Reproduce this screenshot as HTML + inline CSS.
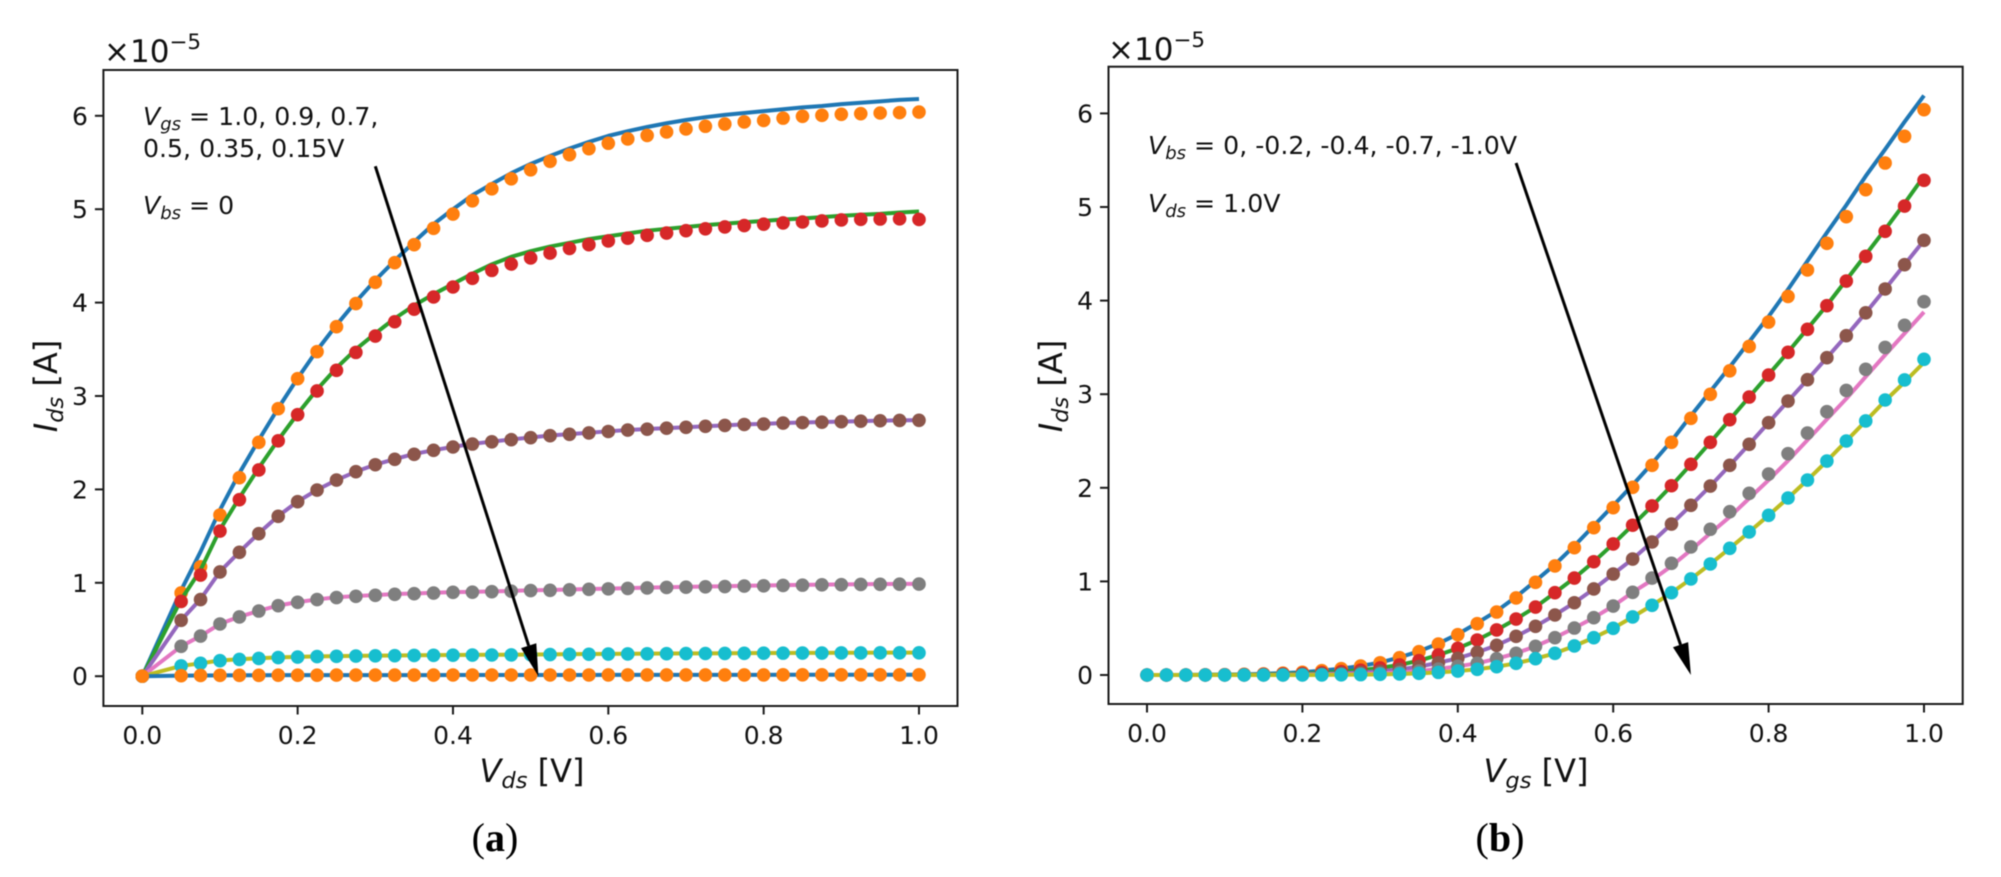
<!DOCTYPE html>
<html lang="en">
<head>
<meta charset="utf-8">
<title>MOSFET I-V characteristics</title>
<style>
html,body{margin:0;padding:0;background:#fff;}
svg{display:block;filter:blur(0.45px);}
text{font-family:"DejaVu Sans","Liberation Sans",sans-serif;fill:#111;}
.cap{font-family:"Liberation Serif",serif;font-size:40px;fill:#000;}
.tick{font-size:25px;}
.note{font-size:25.2px;}
.axl{font-size:32px;}
.off{font-size:31px;}
.it{font-style:italic;}
</style>
</head>
<body>
<svg id="figure" width="2001" height="877" viewBox="0 0 2001 877" xmlns="http://www.w3.org/2000/svg">
  <rect x="0" y="0" width="2001" height="877" fill="#ffffff"/>
  <g id="panel-a"></g>
  <g id="panel-b"></g>

  <text class="off" x="104" y="62">×10<tspan font-size="21.5" dy="-13">−5</tspan></text>
  <text class="off" x="1108" y="60">×10<tspan font-size="21.5" dy="-13">−5</tspan></text>

  <text class="note" x="143" y="125"><tspan class="it">V</tspan><tspan class="it" font-size="18" dy="5">gs</tspan><tspan dy="-5"> = 1.0, 0.9, 0.7,</tspan></text>
  <text class="note" x="143" y="157">0.5, 0.35, 0.15V</text>
  <text class="note" x="143" y="214"><tspan class="it">V</tspan><tspan class="it" font-size="18" dy="5">bs</tspan><tspan dy="-5"> = 0</tspan></text>

  <text class="note" x="1148" y="154"><tspan class="it">V</tspan><tspan class="it" font-size="18" dy="5">bs</tspan><tspan dy="-5"> = 0, -0.2, -0.4, -0.7, -1.0V</tspan></text>
  <text class="note" x="1148" y="212"><tspan class="it">V</tspan><tspan class="it" font-size="18" dy="5">ds</tspan><tspan dy="-5"> = 1.0V</tspan></text>

  <text class="axl" x="532" y="782" text-anchor="middle"><tspan class="it">V</tspan><tspan class="it" font-size="22.5" dy="6">ds</tspan><tspan dy="-6"> [V]</tspan></text>
  <text class="axl" x="1536" y="782" text-anchor="middle"><tspan class="it">V</tspan><tspan class="it" font-size="22.5" dy="6">gs</tspan><tspan dy="-6"> [V]</tspan></text>
  <text class="axl" transform="translate(57,386) rotate(-90)" text-anchor="middle"><tspan class="it">I</tspan><tspan class="it" font-size="22.5" dy="6">ds</tspan><tspan dy="-6"> [A]</tspan></text>
  <text class="axl" transform="translate(1062,386) rotate(-90)" text-anchor="middle"><tspan class="it">I</tspan><tspan class="it" font-size="22.5" dy="6">ds</tspan><tspan dy="-6"> [A]</tspan></text>

  <text class="cap" x="495" y="851" text-anchor="middle">(<tspan font-weight="bold">a</tspan>)</text>
  <text class="cap" x="1500" y="851" text-anchor="middle">(<tspan font-weight="bold">b</tspan>)</text>
</svg>

<script>
// ---------- Panel (a) data: Ids [1e-5 A] vs Vds [V] ----------
const aX = [0,0.05,0.075,0.1,0.125,0.15,0.175,0.2,0.225,0.25,0.275,0.3,0.325,0.35,0.375,0.4,0.425,0.45,0.475,0.5,0.525,0.55,0.575,0.6,0.625,0.65,0.675,0.7,0.725,0.75,0.775,0.8,0.825,0.85,0.875,0.9,0.925,0.95,0.975,1.0];
const aLine1 = [0,0.92,1.333,1.78,2.175,2.53,2.87,3.19,3.49,3.76,4.01,4.24,4.45,4.65,4.84,5.0,5.15,5.27,5.385,5.484,5.57,5.65,5.72,5.785,5.835,5.88,5.92,5.955,5.985,6.01,6.03,6.05,6.07,6.09,6.105,6.125,6.14,6.155,6.17,6.18];
const aDots1 = [0,0.891,1.172,1.726,2.125,2.504,2.864,3.185,3.475,3.742,3.99,4.217,4.427,4.62,4.795,4.948,5.09,5.218,5.325,5.422,5.513,5.584,5.648,5.706,5.752,5.79,5.827,5.859,5.888,5.912,5.934,5.95,5.975,5.995,6.005,6.016,6.023,6.03,6.034,6.04];
const aLine2 = [0,0.82,1.137,1.57,1.91,2.23,2.53,2.81,3.07,3.3,3.5,3.67,3.83,3.97,4.09,4.2,4.31,4.41,4.49,4.55,4.6,4.64,4.68,4.71,4.74,4.77,4.79,4.81,4.83,4.845,4.86,4.875,4.89,4.9,4.915,4.93,4.94,4.95,4.965,4.975];
const aDots2 = [0,0.8,1.083,1.554,1.89,2.208,2.52,2.8,3.054,3.275,3.467,3.642,3.795,3.93,4.06,4.167,4.26,4.345,4.413,4.478,4.53,4.58,4.62,4.66,4.69,4.72,4.745,4.77,4.79,4.81,4.825,4.84,4.853,4.863,4.874,4.885,4.892,4.895,4.897,4.89];
const aLine3 = [0,0.6,0.825,1.12,1.33,1.53,1.715,1.87,1.995,2.1,2.19,2.265,2.325,2.38,2.42,2.455,2.488,2.512,2.535,2.556,2.577,2.592,2.607,2.622,2.636,2.646,2.656,2.666,2.676,2.686,2.696,2.702,2.711,2.716,2.721,2.726,2.731,2.736,2.739,2.742];
const aDots3 = [0,0.598,0.82,1.116,1.326,1.526,1.712,1.868,1.993,2.1,2.19,2.264,2.322,2.376,2.418,2.454,2.486,2.51,2.532,2.554,2.575,2.59,2.605,2.62,2.635,2.645,2.655,2.665,2.675,2.685,2.695,2.7,2.71,2.715,2.72,2.725,2.73,2.735,2.738,2.74];
const aLine4 = [0,0.32,0.43,0.56,0.636,0.7,0.757,0.793,0.822,0.845,0.858,0.869,0.88,0.886,0.893,0.9,0.903,0.908,0.913,0.92,0.923,0.928,0.933,0.938,0.943,0.948,0.953,0.956,0.96,0.963,0.968,0.971,0.975,0.978,0.981,0.983,0.985,0.987,0.988,0.989];
const aDots4 = [0,0.32,0.43,0.559,0.634,0.698,0.755,0.791,0.82,0.842,0.855,0.866,0.877,0.883,0.89,0.898,0.9,0.905,0.91,0.917,0.92,0.925,0.93,0.935,0.94,0.945,0.95,0.953,0.957,0.96,0.965,0.968,0.972,0.975,0.978,0.98,0.982,0.984,0.985,0.986];
const aLine5 = [0,0.11,0.138,0.168,0.182,0.192,0.202,0.207,0.212,0.215,0.218,0.22,0.222,0.224,0.226,0.227,0.228,0.229,0.23,0.232,0.234,0.236,0.237,0.239,0.24,0.242,0.243,0.244,0.245,0.246,0.247,0.248,0.249,0.25,0.25,0.251,0.251,0.252,0.252,0.252];
const aDots5 = [0,0.11,0.138,0.166,0.18,0.19,0.2,0.205,0.21,0.213,0.216,0.218,0.22,0.222,0.224,0.225,0.226,0.227,0.228,0.23,0.232,0.234,0.235,0.237,0.238,0.24,0.241,0.242,0.243,0.244,0.245,0.246,0.247,0.248,0.248,0.249,0.249,0.25,0.25,0.25];
const aLine6 = [0,0.006,0.008,0.009,0.01,0.01,0.011,0.011,0.011,0.012,0.012,0.012,0.012,0.012,0.012,0.013,0.013,0.013,0.013,0.013,0.013,0.013,0.013,0.014,0.014,0.014,0.014,0.014,0.014,0.014,0.014,0.014,0.015,0.015,0.015,0.015,0.015,0.015,0.015,0.015];
const aDots6 = [0,0.006,0.008,0.009,0.01,0.01,0.011,0.011,0.011,0.012,0.012,0.012,0.012,0.012,0.012,0.013,0.013,0.013,0.013,0.013,0.013,0.013,0.013,0.014,0.014,0.014,0.014,0.014,0.014,0.014,0.014,0.014,0.015,0.015,0.015,0.015,0.015,0.015,0.015,0.015];
const aArrowFrom = [0.3,5.46];
const aArrowTo = [0.51,0];

// ---------- Panel (b) data: Ids [1e-5 A] vs Vgs [V] ----------
const bX = [0,0.025,0.05,0.075,0.1,0.125,0.15,0.175,0.2,0.225,0.25,0.275,0.3,0.325,0.35,0.375,0.4,0.425,0.45,0.475,0.5,0.525,0.55,0.575,0.6,0.625,0.65,0.675,0.7,0.725,0.75,0.775,0.8,0.825,0.85,0.875,0.9,0.925,0.95,0.975,1.0];
const bLine1 = [0,0,0.001,0.002,0.004,0.007,0.012,0.02,0.03,0.047,0.068,0.097,0.133,0.188,0.253,0.336,0.437,0.556,0.683,0.835,1.005,1.18,1.38,1.595,1.81,2.03,2.26,2.5,2.77,3.03,3.29,3.56,3.83,4.12,4.423,4.726,5.02,5.33,5.616,5.91,6.19];
const bDots1 = [0,0,0.001,0.002,0.004,0.007,0.012,0.02,0.029,0.046,0.067,0.096,0.131,0.185,0.249,0.331,0.431,0.548,0.673,0.823,0.99,1.165,1.36,1.574,1.788,2.005,2.24,2.486,2.742,2.999,3.25,3.51,3.771,4.045,4.327,4.612,4.897,5.185,5.47,5.755,6.04];
const bLine2 = [0,0,0,0.001,0.002,0.003,0.006,0.01,0.015,0.023,0.035,0.052,0.075,0.108,0.153,0.214,0.285,0.374,0.481,0.598,0.726,0.879,1.036,1.21,1.4,1.6,1.806,2.022,2.251,2.486,2.728,2.97,3.21,3.45,3.7,3.95,4.22,4.49,4.76,5.04,5.33];
const bDots2 = [0,0,0,0.001,0.002,0.003,0.006,0.01,0.015,0.023,0.035,0.052,0.075,0.108,0.153,0.214,0.285,0.374,0.481,0.598,0.726,0.879,1.036,1.21,1.4,1.6,1.806,2.022,2.251,2.486,2.728,2.97,3.205,3.447,3.693,3.946,4.209,4.473,4.74,5.01,5.285];
const bLine3 = [0,0,0,0,0,0.001,0.002,0.004,0.007,0.011,0.018,0.027,0.04,0.06,0.089,0.131,0.178,0.243,0.317,0.413,0.52,0.641,0.772,0.919,1.079,1.239,1.421,1.613,1.813,2.019,2.24,2.465,2.696,2.927,3.155,3.39,3.625,3.87,4.124,4.384,4.644];
const bDots3 = [0,0,0,0,0,0.001,0.002,0.004,0.007,0.011,0.018,0.027,0.04,0.06,0.089,0.131,0.178,0.243,0.317,0.413,0.52,0.641,0.772,0.919,1.079,1.239,1.421,1.613,1.813,2.019,2.24,2.465,2.696,2.927,3.155,3.39,3.625,3.87,4.124,4.384,4.644];
const bLine4 = [0,0,0,0,0,0,0,0.001,0.002,0.004,0.007,0.011,0.018,0.028,0.042,0.064,0.093,0.125,0.174,0.232,0.307,0.399,0.502,0.612,0.737,0.883,1.015,1.165,1.335,1.514,1.69,1.887,2.083,2.29,2.51,2.732,2.952,3.187,3.42,3.65,3.878];
const bDots4 = [0,0,0,0,0,0,0,0.001,0.002,0.004,0.007,0.011,0.018,0.028,0.042,0.064,0.093,0.125,0.174,0.232,0.307,0.399,0.502,0.612,0.737,0.883,1.036,1.193,1.368,1.557,1.745,1.941,2.147,2.365,2.585,2.813,3.04,3.266,3.5,3.736,3.988];
const bLine5 = [0,0,0,0,0,0,0,0,0,0.001,0.002,0.004,0.007,0.011,0.018,0.028,0.042,0.061,0.089,0.125,0.174,0.232,0.31,0.399,0.499,0.62,0.745,0.879,1.026,1.186,1.354,1.528,1.706,1.891,2.083,2.286,2.5,2.714,2.93,3.13,3.34];
const bDots5 = [0,0,0,0,0,0,0,0,0,0.001,0.002,0.004,0.007,0.011,0.018,0.028,0.042,0.061,0.089,0.125,0.174,0.232,0.31,0.399,0.499,0.62,0.745,0.879,1.026,1.186,1.354,1.528,1.706,1.891,2.083,2.286,2.5,2.714,2.938,3.152,3.373];
const bArrowFrom = [0.475,5.47];
const bArrowTo = [0.7,0];

// ---------- Tick labels ----------
const xTickValues = [0,0.2,0.4,0.6,0.8,1.0];
const xTickLabels = ['0.0','0.2','0.4','0.6','0.8','1.0'];
const yTickValues = [0,1,2,3,4,5,6];
const yTickLabels = ['0','1','2','3','4','5','6'];

// ---------- Colours (matplotlib cycle) ----------
const lineColours = ['#1f77b4','#2ca02c','#9467bd','#e377c2','#bcbd22','#1f77b4'];
const dotColours = ['#ff7f0e','#d62728','#8c564b','#7f7f7f','#17becf','#ff7f0e'];

const NS = 'http://www.w3.org/2000/svg';

function make(tag, parent, attrs) {
  const el = document.createElementNS(NS, tag);
  for (const k in attrs) el.setAttribute(k, attrs[k]);
  parent.appendChild(el);
  return el;
}

function drawPanel(id, frame, xs, lines, dots, arrowFrom, arrowTo) {
  const root = document.getElementById(id);
  const sx = v => frame.x0 + v * frame.xUnit;
  const sy = v => frame.y0 - v * frame.yUnit;

  // series, in plotting order: line then its dots
  lines.forEach((vals, s) => {
    const pts = xs.map((x, i) => sx(x).toFixed(2) + ',' + sy(vals[i]).toFixed(2)).join(' ');
    const line = make('polyline', root, {points: pts, fill: 'none', stroke: lineColours[s], 'stroke-width': 4, 'stroke-linejoin': 'round'});
    
    
    const group = make('g', root, {fill: dotColours[s]});
    
    
    xs.forEach((x, i) => {
      const c = make('circle', group, {cx: sx(x).toFixed(2), cy: sy(dots[s][i]).toFixed(2), r: 6.8});
      
      
    });
  });

  // arrow
  const ax0 = sx(arrowFrom[0]), ay0 = sy(arrowFrom[1]);
  const ax1 = sx(arrowTo[0]), ay1 = sy(arrowTo[1]);
  const len = Math.hypot(ax1 - ax0, ay1 - ay0);
  const ux = (ax1 - ax0) / len, uy = (ay1 - ay0) / len;
  const bx = ax1 - ux * 32, by = ay1 - uy * 32;
  const shaft = make('line', root, {x1: ax0, y1: ay0, x2: bx, y2: by, stroke: '#000', 'stroke-width': 3});
  
  
  const head = make('polygon', root, {points: ax1 + ',' + ay1 + ' ' + (bx - uy * 8) + ',' + (by + ux * 8) + ' ' + (bx + uy * 8) + ',' + (by - ux * 8), fill: '#000'});
  
  

  // frame
  const box = make('rect', root, {x: frame.left, y: frame.top, width: frame.right - frame.left, height: frame.bottom - frame.top, fill: 'none', stroke: '#1a1a1a', 'stroke-width': 2});
  
  

  // x ticks
  xTickValues.forEach((v, i) => {
    const t = make('line', root, {x1: sx(v), x2: sx(v), y1: frame.bottom, y2: frame.bottom + 8.5, stroke: '#1a1a1a', 'stroke-width': 2});
    
    
    const l = make('text', root, {x: sx(v), y: frame.bottom + 38, 'text-anchor': 'middle', class: 'tick'});
    l.textContent = xTickLabels[i];
    
    
  });

  // y ticks
  yTickValues.forEach((v, i) => {
    const t = make('line', root, {x1: frame.left - 8.5, x2: frame.left, y1: sy(v), y2: sy(v), stroke: '#1a1a1a', 'stroke-width': 2});
    
    
    const l = make('text', root, {x: frame.left - 15.5, y: sy(v) + 9, 'text-anchor': 'end', class: 'tick'});
    l.textContent = yTickLabels[i];
    
    
  });
}

drawPanel('panel-a',
  {left: 103.4, right: 957.5, top: 70, bottom: 706, x0: 142.3, xUnit: 776.7, y0: 676.2, yUnit: 93.4},
  aX,
  [aLine1, aLine2, aLine3, aLine4, aLine5, aLine6],
  [aDots1, aDots2, aDots3, aDots4, aDots5, aDots6],
  aArrowFrom, aArrowTo);

drawPanel('panel-b',
  {left: 1108.5, right: 1962.7, top: 66.7, bottom: 704, x0: 1147, xUnit: 777, y0: 675, yUnit: 93.6},
  bX,
  [bLine1, bLine2, bLine3, bLine4, bLine5],
  [bDots1, bDots2, bDots3, bDots4, bDots5],
  bArrowFrom, bArrowTo);
</script>
</body>
</html>
